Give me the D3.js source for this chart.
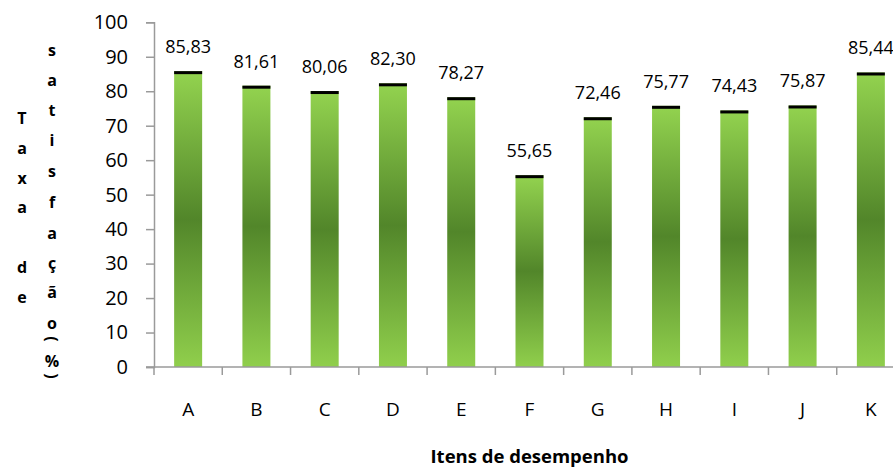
<!DOCTYPE html>
<html>
<head>
<meta charset="utf-8">
<script src="https://cdn.jsdelivr.net/npm/d3@7"></script>
<style>
  html, body { margin: 0; padding: 0; background: #fff; }
  svg { display: block; }
  text { font-family: "Open Sans", "Liberation Sans", sans-serif; fill: #000; }
</style>
</head>
<body>
<svg id="chart" width="893" height="470"></svg>
<script>
const categories = ["A", "B", "C", "D", "E", "F", "G", "H", "I", "J", "K"];
const values = [85.83, 81.61, 80.06, 82.30, 78.27, 55.65, 72.46, 75.77, 74.43, 75.87, 85.44];
const yTicks = [0, 10, 20, 30, 40, 50, 60, 70, 80, 90, 100];
const xTitle = "Itens de desempenho";
const yTitleCol1 = ["T", "a", "x", "a", " ", "d", "e"];
const yTitleCol2 = ["s", "a", "t", "i", "s", "f", "a", "ç", "ã", "o", "(", "%", ")"];

const svg = d3.select("#chart");
const plotLeft = 154, plotRight = 905, plotTop = 22.3, plotBottom = 367;

const x = d3.scaleBand().domain(categories).range([plotLeft, plotRight]).paddingInner(0.59).paddingOuter(0.295);
const y = d3.scaleLinear().domain([0, 100]).range([plotBottom, plotTop]);

const defs = svg.append("defs");
const grad = defs.append("linearGradient").attr("id", "barGrad")
  .attr("x1", 0).attr("y1", 0).attr("x2", 0).attr("y2", 1);
grad.append("stop").attr("offset", "0").attr("stop-color", "#93d34f");
grad.append("stop").attr("offset", "0.5").attr("stop-color", "#52862a");
grad.append("stop").attr("offset", "1").attr("stop-color", "#90cf4c");

const axisColor = "#9a9a9a";

// Y axis
const yAxis = d3.axisLeft(y).tickValues(yTicks).tickSize(8).tickPadding(18).tickFormat(d3.format("d"));
const gy = svg.append("g").attr("transform", `translate(${plotLeft},0)`).call(yAxis);
gy.select(".domain").attr("stroke", axisColor).attr("stroke-width", 1.5);
gy.selectAll(".tick line").attr("stroke", axisColor).attr("stroke-width", 1.5);
gy.selectAll(".tick text").attr("font-size", 20).attr("font-family", "Open Sans, sans-serif").attr("fill", "#000");

// Bars
const bars = svg.append("g");
bars.selectAll("rect.bar").data(values).join("rect")
  .attr("class", "bar")
  .attr("x", (d, i) => x(categories[i]))
  .attr("width", x.bandwidth())
  .attr("y", d => y(d))
  .attr("height", d => plotBottom - y(d))
  .attr("fill", "url(#barGrad)");
bars.selectAll("rect.cap").data(values).join("rect")
  .attr("class", "cap")
  .attr("x", (d, i) => x(categories[i]))
  .attr("width", x.bandwidth())
  .attr("y", d => y(d))
  .attr("height", 3)
  .attr("fill", "#000");

// X axis
const xAxis = d3.axisBottom(x).tickSize(0).tickPadding(0).tickFormat("");
const gx = svg.append("g").attr("transform", `translate(0,${plotBottom})`).call(xAxis);
gx.select(".domain").attr("stroke", axisColor).attr("stroke-width", 1.5)
  .attr("d", `M${plotLeft - 8},0H${plotRight + 10}`);
const step = x.step();
gx.selectAll("line.sep").data(d3.range(categories.length + 1)).join("line")
  .attr("class", "sep")
  .attr("x1", i => plotLeft + i * step).attr("x2", i => plotLeft + i * step)
  .attr("y1", 0).attr("y2", 8)
  .attr("stroke", axisColor).attr("stroke-width", 1.5);

svg.append("g").selectAll("text").data(categories).join("text")
  .attr("x", d => x(d) + x.bandwidth() / 2)
  .attr("y", 416)
  .attr("text-anchor", "middle")
  .attr("font-size", 19)
  .text(d => d);

// Value labels
svg.append("g").selectAll("text").data(values).join("text")
  .attr("x", (d, i) => x(categories[i]) + x.bandwidth() / 2)
  .attr("y", d => y(d) - 18)
  .attr("text-anchor", "middle")
  .attr("font-size", 18)
  .text(d => d3.format(".2f")(d).replace(".", ","));

// X title
svg.append("text")
  .attr("x", (plotLeft + plotRight) / 2)
  .attr("y", 463)
  .attr("text-anchor", "middle")
  .attr("font-size", 18.5)
  .attr("font-weight", "bold")
  .text(xTitle);

// Y title (stacked letters)
const yt = svg.append("g").attr("font-weight", "bold").attr("font-size", 16);
yTitleCol1.forEach((c, i) => {
  yt.append("text").attr("x", 22).attr("y", 118 + i * 29.8)
    .attr("text-anchor", "middle").attr("dominant-baseline", "central").text(c);
});
const col2Y = [50, 80, 110, 140, 171, 202, 233, 263, 292, 323, 339, 361, 376];
yTitleCol2.forEach((c, i) => {
  const t = yt.append("text").attr("text-anchor", "middle").attr("dominant-baseline", "central").text(c);
  if (c === "(" || c === ")") {
    t.attr("transform", `translate(52,${col2Y[i]}) rotate(90)`);
  } else {
    t.attr("x", 52).attr("y", col2Y[i]);
  }
});
</script>
</body>
</html>
